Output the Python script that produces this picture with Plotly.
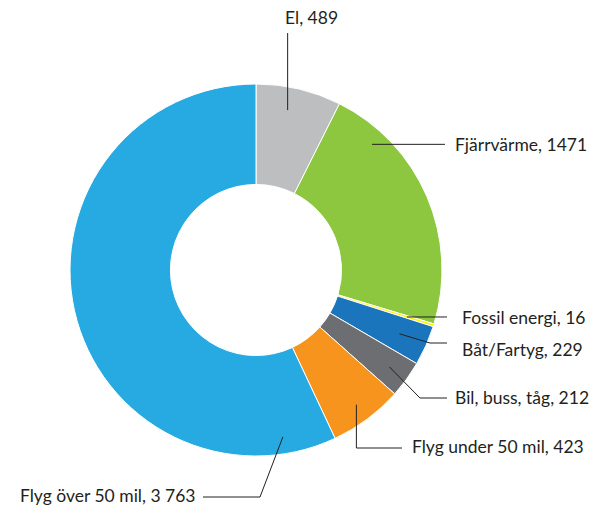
import math
import plotly.graph_objects as go

# ---- data ----
categories = ["El", "Fjärrvärme", "Fossil energi", "Båt/Fartyg", "Bil, buss, tåg",
              "Flyg under 50 mil", "Flyg över 50 mil"]
values = [489, 1471, 16, 229, 212, 423, 3763]
value_labels = ["489", "1471", "16", "229", "212", "423", "3 763"]

# ---- style ----
colors = ["#bcbec0", "#8dc63f", "#fff200", "#1b75bc", "#6d6e71", "#f7941d", "#27aae1"]
OFF = 8                      # page body margin in the browser
W, H = 605 - OFF, 508 - OFF  # figure size
CX, CY, R = 256, 270, 186    # in window pixels
HOLE = 0.46
FONT = "Lato"
TXT = "#231f20"

anchor_frac = [0.42, 0.2, 0.5, 0.5, 0.5, 0.5, 0.078]
anchor_r = [163, 171, 158, 157, 165, 168, 169]
leader = [
    ("up", 33),
    ("right", 445),
    ("right", 447),
    ("elbow", (430, 343), (447, 343)),
    ("elbow", (420, 398), (447, 398)),
    ("elbow", (None, 448), (402, 448)),
    ("elbow", (260, 497), (203, 497)),
]
label_pos = [  # (x, y, xanchor) in window pixels
    (283, 17, "left"),
    (453, None, "left"),
    (460, 317, "left"),
    (460, 349, "left"),
    (453, 397, "left"),
    (410, 446, "left"),
    (198, 495, "right"),
]

def px(x, y):
    return (x - OFF) / W, 1 - (y - OFF) / H

total = sum(values)
x0, y1 = px(CX - R, CY - R)
x1, y0 = px(CX + R, CY + R)
fig = go.Figure(go.Pie(
    values=values, labels=categories, sort=False, direction="clockwise",
    rotation=0, hole=HOLE, textinfo="none", hoverinfo="label+value",
    marker=dict(colors=colors, line=dict(color="white", width=1)),
    domain=dict(x=[x0, x1], y=[y0, y1]),
    showlegend=False,
))

shapes, annotations = [], []
cum = 0
for i, v in enumerate(values):
    a = (cum + v * anchor_frac[i]) / total * 2 * math.pi
    cum += v
    ax = CX + anchor_r[i] * math.sin(a)
    ay = CY - anchor_r[i] * math.cos(a)
    kind = leader[i][0]
    if kind == "up":
        pts = [(ax, ay), (ax, leader[i][1])]
    elif kind == "right":
        pts = [(ax, ay), (leader[i][1], ay)]
    else:
        (ex, ey), end = leader[i][1], leader[i][2]
        ex = ax if ex is None else ex
        pts = [(ax, ay), (ex, ey), end]
    path = "M " + " L ".join("%f,%f" % px(x, y) for x, y in pts)
    shapes.append(dict(type="path", xref="paper", yref="paper", path=path,
                       line=dict(color="#231f20", width=1)))
    lx, ly, anc = label_pos[i]
    if ly is None:
        ly = ay
    X, Y = px(lx, ly)
    annotations.append(dict(x=X, y=Y, xref="paper", yref="paper", xanchor=anc,
                            yanchor="middle", showarrow=False,
                            text=f"{categories[i]}, {value_labels[i]}",
                            font=dict(family=FONT, size=17.5, color=TXT)))

fig.update_layout(width=W, height=H, margin=dict(l=0, r=0, t=0, b=0),
                  paper_bgcolor="white", plot_bgcolor="white",
                  shapes=shapes, annotations=annotations)
fig.write_html("out.html")
